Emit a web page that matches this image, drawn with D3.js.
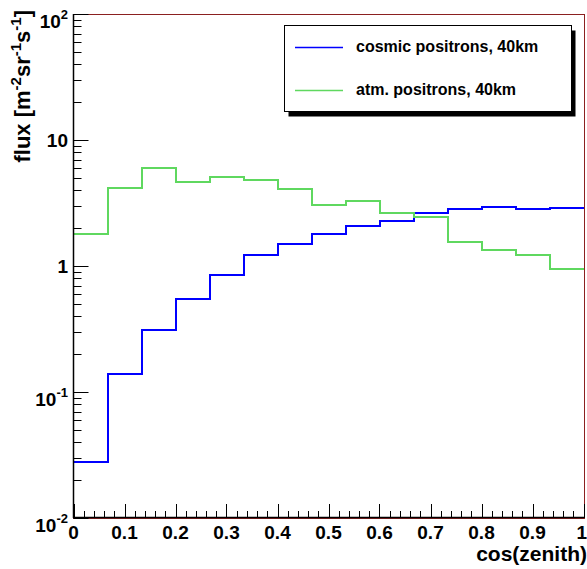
<!DOCTYPE html>
<html>
<head>
<meta charset="utf-8">
<script src="https://cdn.jsdelivr.net/npm/d3@7"></script>
<style>
body{margin:0;background:#fff;}
svg{display:block;font-family:"Liberation Sans",Arial,Helvetica,sans-serif;font-weight:bold;}
</style>
</head>
<body>
<svg id="c" width="587" height="569"></svg>
<script>
// Data
const binEdges = [0, 1/15, 2/15, 3/15, 4/15, 5/15, 6/15, 7/15, 8/15, 9/15, 10/15, 11/15, 12/15, 13/15, 14/15, 1];
const cosmicPositrons = [0.028, 0.138, 0.31, 0.547, 0.85, 1.22, 1.49, 1.79, 2.09, 2.28, 2.62, 2.82, 2.96, 2.83, 2.87];
const atmPositrons = [1.78, 4.14, 6.0, 4.67, 5.06, 4.84, 4.11, 3.07, 3.26, 2.62, 2.43, 1.56, 1.34, 1.23, 0.947];
const xTickLabels = ["0","0.1","0.2","0.3","0.4","0.5","0.6","0.7","0.8","0.9","1"];
const yTickValues = [0.01, 0.1, 1, 10, 100];
const yTickLabels = [["10","-2"],["10","-1"],["1",null],["10",null],["10","2"]];
const seriesNames = ["cosmic positrons, 40km", "atm. positrons, 40km"];
const seriesColors = ["#0000ff", "#5fd85f"];

const svg = d3.select("#c");
const L = 73.5, R = 584, T = 14, B = 518;
const x = d3.scaleLinear().domain([0, 1]).range([L, R - 0.5]);
const y = d3.scaleLog().domain([0.01, 100]).range([B, T]);

// frame
svg.append("rect").attr("x", L).attr("y", T + 0.5).attr("width", R + 0.5 - L).attr("height", B - T)
  .attr("fill", "none").attr("stroke", "#8b2020").attr("stroke-width", 1);

// histograms
function stepPath(vals) {
  let d = "";
  vals.forEach((v, i) => {
    const x0 = x(binEdges[i]), x1 = x(binEdges[i + 1]), yy = y(v);
    d += (i === 0 ? "M" : "L") + x0 + "," + yy + "L" + x1 + "," + yy;
  });
  return d;
}
[cosmicPositrons, atmPositrons].forEach((vals, k) => {
  svg.append("path").attr("d", stepPath(vals)).attr("fill", "none")
    .attr("stroke", seriesColors[k]).attr("stroke-width", 2).attr("shape-rendering", "crispEdges");
});

// y axis
const ga = svg.append("g");
ga.append("line").attr("x1", L).attr("x2", L).attr("y1", T).attr("y2", B).attr("stroke", "#000").attr("stroke-width", 1.5);
const yMinor = [];
for (let e = -2; e < 2; e++) for (let m = 2; m <= 9; m++) yMinor.push(m * Math.pow(10, e));
yMinor.forEach(v => {
  const yy = Math.round(y(v)) + 0.5;
  ga.append("line").attr("x1", L).attr("x2", L + 8).attr("y1", yy).attr("y2", yy).attr("stroke", "#000");
});
yTickValues.forEach((v, i) => {
  const yy = Math.round(y(v)) + 0.5;
  ga.append("line").attr("x1", L).attr("x2", L + 15).attr("y1", yy).attr("y2", yy).attr("stroke", "#000");
  const lab = yTickLabels[i];
  const t = ga.append("text").attr("x", 68).attr("text-anchor", "end").attr("font-size", 19);
  if (lab[1] === null) {
    t.attr("y", y(v) + 7).text(lab[0]);
  } else {
    t.attr("y", y(v) + 14);
    t.append("tspan").text(lab[0]);
    t.append("tspan").attr("font-size", 13).attr("dy", -9).text(lab[1]);
  }
});

// x axis
ga.append("line").attr("x1", L).attr("x2", R).attr("y1", B - 0.5).attr("y2", B - 0.5).attr("stroke", "#000").attr("stroke-width", 1.5);
for (let i = 0; i <= 50; i++) {
  const xx = Math.round(x(i / 50)) + 0.5;
  const major = i % 5 === 0;
  ga.append("line").attr("x1", xx).attr("x2", xx).attr("y1", B).attr("y2", B - (major ? 14 : 7)).attr("stroke", "#000");
}
xTickLabels.forEach((lab, i) => {
  const last = i === xTickLabels.length - 1;
  ga.append("text").attr("x", last ? 587 : x(i / 10)).attr("y", 539)
    .attr("text-anchor", last ? "end" : "middle").attr("font-size", 19).text(lab);
});
ga.append("text").attr("x", 587).attr("y", 561).attr("text-anchor", "end").attr("font-size", 21).text("cos(zenith)");

// y title
const yt = ga.append("text").attr("transform", "translate(30,10) rotate(-90)").attr("text-anchor", "end").attr("font-size", 22);
yt.append("tspan").text("flux [m");
yt.append("tspan").attr("font-size", 15).attr("dy", -9).text("-2");
yt.append("tspan").attr("dy", 9).text("sr");
yt.append("tspan").attr("font-size", 15).attr("dy", -9).text("-1");
yt.append("tspan").attr("dy", 9).text("s");
yt.append("tspan").attr("font-size", 15).attr("dy", -9).text("-1");
yt.append("tspan").attr("dy", 9).text("]");

// legend
const lg = svg.append("g");
const lx = 284.5, ly = 25.5, lw = 287, lh = 86;
lg.append("rect").attr("x", lx + 4).attr("y", ly + 5).attr("width", lw).attr("height", lh).attr("fill", "#000");
lg.append("rect").attr("x", lx).attr("y", ly).attr("width", lw).attr("height", lh).attr("fill", "#fff").attr("stroke", "#000");
const rowsY = [47, 90], textY = [52, 95];
seriesNames.forEach((n, k) => {
  lg.append("line").attr("x1", 295).attr("x2", 343).attr("y1", rowsY[k] + 0.5).attr("y2", rowsY[k] + 0.5)
    .attr("stroke", seriesColors[k]).attr("stroke-width", 1.5);
  lg.append("text").attr("x", 356).attr("y", textY[k]).attr("font-size", 16).text(n);
});
</script>
</body>
</html>
